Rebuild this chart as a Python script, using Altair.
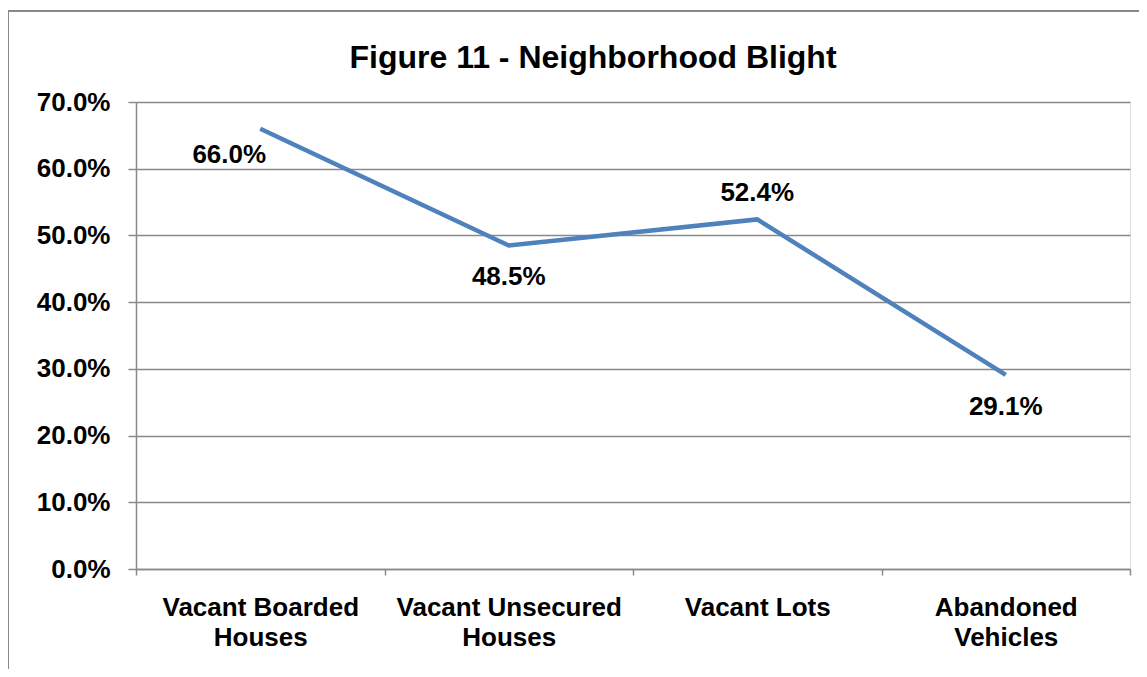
import json
import altair as alt
import pandas as pd

categories = ["Vacant Boarded Houses", "Vacant Unsecured Houses", "Vacant Lots", "Abandoned Vehicles"]
values = [0.660, 0.485, 0.524, 0.291]
label_lines = [["Vacant Boarded", "Houses"], ["Vacant Unsecured", "Houses"], ["Vacant Lots"], ["Abandoned", "Vehicles"]]
y_ticks = [0.0, 0.1, 0.2, 0.3, 0.4, 0.5, 0.6, 0.7]
title_text = "Figure 11 - Neighborhood Blight"

df = pd.DataFrame({"category": categories, "value": values})

FONT = "Liberation Sans"
GRAY = "#898989"
BLUE = "#4F81BD"
FS = 26

label_expr = " : ".join(
    f"datum.label == {json.dumps(c)} ? {json.dumps(l)}" for c, l in zip(categories, label_lines)
) + " : datum.label"

x_enc = alt.X(
    "category:N",
    sort=categories,
    scale=alt.Scale(type="band", paddingInner=0, paddingOuter=0),
    axis=alt.Axis(
        title=None, labelExpr=label_expr, tickBand="extent", labelAngle=0, labelLimit=0,
        labelFontSize=FS, labelFont=FONT, labelFontWeight="bold", labelColor="black",
        labelLineHeight=30, labelPadding=19, tickSize=6, domainColor=GRAY, tickColor=GRAY,
        domainWidth=1.5, tickWidth=1.5, grid=False, labelBaseline="top",
    ),
)
y_enc = alt.Y(
    "value:Q",
    scale=alt.Scale(domain=[0, 0.7], nice=False),
    axis=alt.Axis(
        values=y_ticks, format=".1%", title=None, grid=True, gridColor=GRAY, gridWidth=1.5,
        tickSize=8, tickColor=GRAY, tickWidth=1.5, domainColor=GRAY, domainWidth=1.5,
        labelPadding=18, labelFontSize=FS, labelFont=FONT, labelFontWeight="bold",
        labelColor="black", labelLimit=0,
    ),
)

base = alt.Chart(df)
line = base.mark_line(color=BLUE, strokeWidth=4.5).encode(x=x_enc, y=y_enc)

text_style = dict(font=FONT, fontSize=FS, fontWeight="bold", color="black", align="center")
lab_first = base.transform_filter(alt.datum.category == categories[0]).mark_text(
    dx=-31, dy=34, baseline="alphabetic", **text_style
).encode(x=x_enc, y=y_enc, text=alt.Text("value:Q", format=".1%"))
lab_below = base.transform_filter(
    (alt.datum.category == categories[1]) | (alt.datum.category == categories[3])
).mark_text(dy=40, baseline="alphabetic", **text_style).encode(
    x=x_enc, y=y_enc, text=alt.Text("value:Q", format=".1%")
)
lab_above = base.transform_filter(alt.datum.category == categories[2]).mark_text(
    dy=-18, baseline="alphabetic", **text_style
).encode(x=x_enc, y=y_enc, text=alt.Text("value:Q", format=".1%"))

frame = alt.Chart(pd.DataFrame({"a": [0]})).mark_rect(
    fillOpacity=0, stroke=GRAY, strokeWidth=2
).encode(x=alt.value(-128), y=alt.value(-91), x2=alt.value(1300), y2=alt.value(900))

chart = alt.layer(frame, line, lab_first, lab_below, lab_above).properties(
    width=994,
    height=467,
    title=alt.TitleParams(
        title_text, fontSize=32, font=FONT, fontWeight="bold", color="black",
        anchor="middle", dx=-40, offset=-90, baseline="alphabetic",
    ),
    autosize=alt.AutoSizeParams(type="none"),
    padding={"left": 128, "top": 94, "right": 9, "bottom": 100},
).configure_view(stroke=None).configure(background="white")

chart.save("out.html", embed_options={"renderer": "svg", "actions": False})
